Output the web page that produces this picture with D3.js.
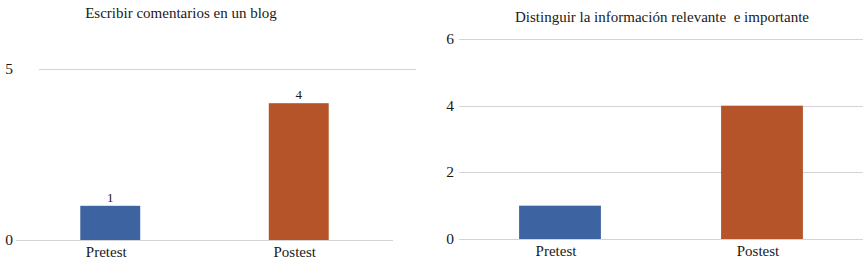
<!DOCTYPE html>
<html>
<head>
<meta charset="utf-8">
<script src="https://cdn.jsdelivr.net/npm/d3@7"></script>
<style>
body { margin: 0; background: #fff; }
.grid line { stroke: #d4d4d4; stroke-width: 1; }
</style>
</head>
<body>
<svg id="chart" width="867" height="266" font-family="'Liberation Serif', 'Times New Roman', serif" fill="#1a1a1a"></svg>
<script>
// categories and values for both panels
var categories = ["Pretest", "Postest"];
var blogValues = [1, 4];
var infoValues = [1, 4];
var blogTicks = [0, 5];
var infoTicks = [0, 2, 4, 6];
var titles = ["Escribir comentarios en un blog", "Distinguir la información relevante  e importante"];
var barColors = ["#3d64a0", "#b55428"];

var svg = d3.select("#chart");

function drawPanel(opts) {
	var g = svg.append("g");

	var x = d3.scaleBand().domain(categories).range([opts.x0, opts.x1]).padding(0);
	var y = d3.scaleLinear().domain([0, opts.max]).range([opts.y0, opts.yTop]);

	// title
	g.append("text")
		.attr("x", opts.titleX)
		.attr("y", opts.titleY)
		.attr("text-anchor", "middle")
		.style("font-size", "15px")
		.style("white-space", "pre")
		.text(opts.title);

	// gridlines (top ones use their own extent)
	var grid = g.append("g").attr("class", "grid");
	grid.selectAll("line")
		.data(opts.ticks).enter()
		.append("line")
		.attr("x1", function(d) { return d == 0 ? opts.x0 : opts.gx0; })
		.attr("x2", function(d) { return d == 0 ? opts.x1 : opts.gx1; })
		.attr("y1", function(d) { return Math.round(y(d)) + 0.5; })
		.attr("y2", function(d) { return Math.round(y(d)) + 0.5; });

	// tick labels
	g.selectAll(".tick-label")
		.data(opts.ticks).enter()
		.append("text")
		.attr("class", "tick-label")
		.attr("x", opts.tickX)
		.attr("y", function(d) { return y(d) + 5; })
		.attr("text-anchor", "end")
		.style("font-size", "15.5px")
		.text(function(d) { return d; });

	var bw = x.bandwidth() * opts.barFrac;
	g.selectAll(".bar")
		.data(opts.values).enter()
		.append("rect")
		.attr("class", "bar")
		.attr("x", function(d, i) { return x(categories[i]) + x.bandwidth() / 2 - bw / 2; })
		.attr("y", function(d) { return y(d); })
		.attr("width", bw)
		.attr("height", function(d) { return y(0) - y(d); })
		.attr("fill", function(d, i) { return barColors[i]; });

	if (opts.showValues) {
		g.selectAll(".val")
			.data(opts.values).enter()
			.append("text")
			.attr("class", "val")
			.attr("x", function(d, i) { return x(categories[i]) + x.bandwidth() / 2; })
			.attr("y", function(d) { return y(d) - 4; })
			.attr("text-anchor", "middle")
			.style("font-size", "13px")
			.text(function(d) { return d; });
	}

	// category labels
	g.selectAll(".cat")
		.data(categories).enter()
		.append("text")
		.attr("class", "cat")
		.attr("x", function(d) { return x(d) + x.bandwidth() / 2 - 4; })
		.attr("y", opts.catY)
		.attr("text-anchor", "middle")
		.style("font-size", "15px")
		.text(function(d) { return d; });
}

drawPanel({
	title: titles[0], titleX: 181, titleY: 18,
	values: blogValues, ticks: blogTicks, max: 5,
	x0: 16, x1: 393, gx0: 39, gx1: 416,
	y0: 240, yTop: 69, tickX: 13,
	barFrac: 0.318, showValues: true, catY: 257
});

drawPanel({
	title: titles[1], titleX: 662, titleY: 22,
	values: infoValues, ticks: infoTicks, max: 6,
	x0: 459, x1: 863, gx0: 459, gx1: 863,
	y0: 239, yTop: 39, tickX: 454,
	barFrac: 0.405, showValues: false, catY: 256
});
</script>
</body>
</html>
